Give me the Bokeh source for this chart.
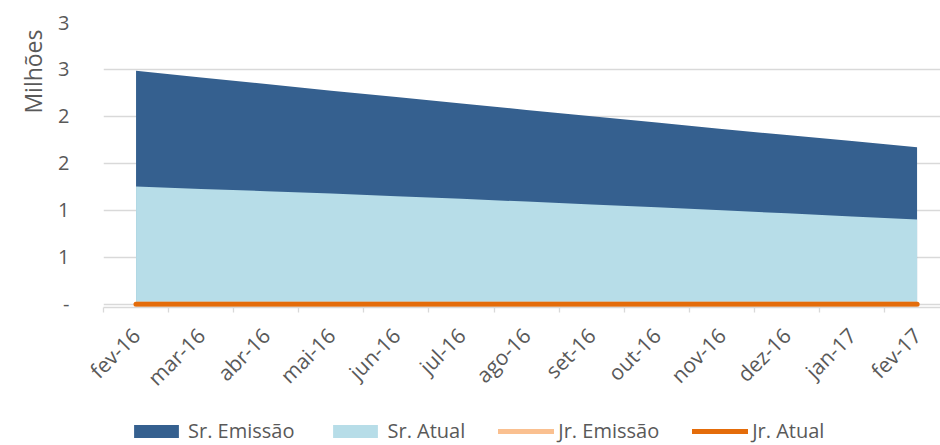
import math
from bokeh.plotting import figure
from bokeh.layouts import column
from bokeh.models import (Range1d, FixedTicker, Legend, LegendItem, Title)
from bokeh.embed import file_html
from bokeh.resources import INLINE

# ---- data (values in millions) ----
months = ["fev-16", "mar-16", "abr-16", "mai-16", "jun-16", "jul-16", "ago-16",
          "set-16", "out-16", "nov-16", "dez-16", "jan-17", "fev-17"]
sr_emissao = [2.487, 2.415, 2.344, 2.274, 2.206, 2.138, 2.069,
              2.002, 1.935, 1.866, 1.802, 1.737, 1.672]
sr_atual = [1.253, 1.228, 1.204, 1.178, 1.150, 1.122, 1.093,
            1.063, 1.033, 1.001, 0.968, 0.935, 0.901]
jr_emissao = [0, 0, 0, 0, 0, 0, 0, 0, 0, 0, 0, 0, 0]
jr_atual = [0, 0, 0, 0, 0, 0, 0, 0, 0, 0, 0, 0, 0]
y_ticks = [0, 0.5, 1.0, 1.5, 2.0, 2.5, 3.0]
y_tick_labels = ["-", "1", "1", "2", "2", "3", "3"]
series_names = ["Sr. Emissão", "Sr. Atual", "Jr. Emissão", "Jr. Atual"]

x = list(range(len(months)))

DARK = "#35608F"
LIGHT = "#B7DDE8"
PEACH = "#FAC090"
ORANGE = "#E46C0A"
TXT = "#595959"
GRID = "#D9D9D9"
FONT = "Open Sans"

p = figure(width=940, height=405, output_backend="svg", toolbar_location=None,
           x_range=Range1d(-0.5, 12.36), y_range=Range1d(-0.035, 3.0),
           min_border_left=103, min_border_right=0, min_border_top=22,
           min_border_bottom=98)
p.outline_line_color = None
p.background_fill_color = "white"


def draw_series(fig):
    a = fig.varea(x=x, y1=0, y2=sr_emissao, fill_color=DARK)
    b = fig.varea(x=x, y1=0, y2=sr_atual, fill_color=LIGHT)
    c = fig.line(x=x, y=jr_emissao, line_color=PEACH, line_width=5, line_cap="round")
    d = fig.line(x=x, y=jr_atual, line_color=ORANGE, line_width=5, line_cap="round")
    return [a, b, c, d]


draw_series(p)

# y axis
p.yaxis.ticker = FixedTicker(ticks=y_ticks)
p.yaxis.major_label_overrides = {float(t): l for t, l in zip(y_ticks, y_tick_labels)}
p.yaxis.axis_line_color = None
p.yaxis.major_tick_line_color = None
p.yaxis.minor_tick_line_color = None
p.yaxis.major_label_standoff = 28
p.yaxis.major_label_text_font = FONT
p.yaxis.major_label_text_font_size = "20px"
p.yaxis.major_label_text_color = TXT

p.ygrid.ticker = FixedTicker(ticks=y_ticks)
p.ygrid.grid_line_color = GRID
p.ygrid.grid_line_width = 1.3
p.xgrid.grid_line_color = None

# x axis
centers = [float(i) for i in x]
bounds = [i - 0.5 for i in range(len(months) + 1)]
p.xaxis.ticker = FixedTicker(ticks=centers, minor_ticks=bounds)
p.xaxis.major_label_overrides = {float(i): m for i, m in zip(x, months)}
p.xaxis.major_label_orientation = math.pi / 4
p.xaxis.axis_line_color = GRID
p.xaxis.axis_line_width = 1.3
p.xaxis.major_tick_line_color = None
p.xaxis.minor_tick_line_color = GRID
p.xaxis.minor_tick_line_width = 1.3
p.xaxis.minor_tick_out = 5
p.xaxis.minor_tick_in = 0
p.xaxis.major_label_standoff = 18
p.xaxis.major_label_text_font = FONT
p.xaxis.major_label_text_font_size = "21px"
p.xaxis.major_label_text_color = TXT

# axis title (display units)
p.add_layout(Title(text="Milhões", align="right", offset=7, standoff=13,
                   text_font=FONT, text_font_size="23px", text_font_style="normal",
                   text_color=TXT), "left")

# ---- legend strip (separate figure below the chart; series drawn out of view) ----
lp = figure(width=940, height=40, output_backend="svg", toolbar_location=None,
            x_range=Range1d(-0.5, 12.36), y_range=Range1d(10, 11),
            min_border=0, min_border_left=0, min_border_right=0,
            min_border_top=0, min_border_bottom=0)
lp.axis.visible = False
lp.grid.visible = False
lp.outline_line_color = None
legend_renderers = draw_series(lp)

items = [LegendItem(label=n, renderers=[r]) for n, r in zip(series_names, legend_renderers)]
lg = Legend(items=items, location=(25, 1), orientation="horizontal",
            glyph_width=56, glyph_height=16, label_standoff=4,
            padding=0, margin=0, spacing=33,
            border_line_color=None, background_fill_alpha=0,
            label_text_font=FONT, label_text_font_size="20px",
            label_text_color=TXT)
lp.add_layout(lg, "center")

layout = column(p, lp, spacing=0)
open("out.html", "w").write(file_html(layout, INLINE))
